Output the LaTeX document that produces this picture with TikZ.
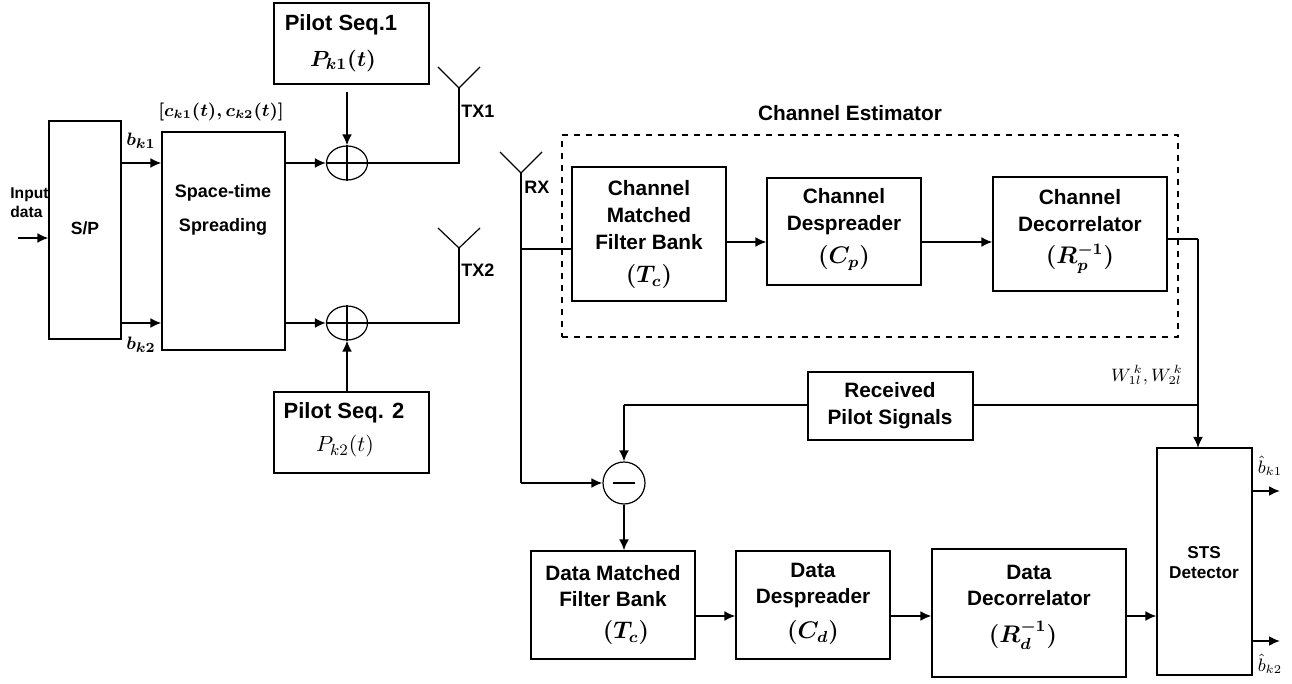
\documentclass[tikz,border=0pt]{standalone}
\usepackage{amsmath}
\usepackage{fontspec}
\setmainfont{Liberation Sans}
\usetikzlibrary{arrows.meta,shapes.geometric}
\newcommand{\bx}[6][]{\node[box,#1,minimum width={(#5-#3)*0.5pt},minimum height={(#6-#4)*0.5pt}] (#2) at ({(#3+#5)/2},{(#4+#6)/2}) {};}
\begin{document}
\begin{tikzpicture}[x=0.5pt,y=-0.5pt,
  box/.style={draw,line width=0.6pt,inner sep=0pt},
  thinln/.style={line width=0.6pt},
  arr/.style={line width=1pt,-{Latex[length=5.5pt,width=5pt]}},
  adder/.style={draw,ellipse,line width=0.6pt,minimum width=20.5pt,minimum height=17pt,inner sep=0pt},
  lbl/.style={font=\bfseries\fontsize{10.4}{12}\selectfont,inner sep=0pt},
  slbl/.style={font=\bfseries\fontsize{9}{11}\selectfont,inner sep=0pt},
  mth/.style={font=\fontsize{11.5}{13}\selectfont\boldmath,inner sep=0pt},
  smth/.style={font=\fontsize{9.5}{11}\selectfont\boldmath,inner sep=0pt},
  pmth/.style={font=\fontsize{9}{11}\selectfont,inner sep=0pt}]
\useasboundingbox (0,0) rectangle (1292,684);

% ---------- transmitter ----------
\bx{sp}{49}{121}{121}{339}
\bx{st}{162}{132}{285}{350}
\bx{p1}{274}{3}{429}{84}
\bx{p2}{274}{392}{429}{473}
\node[adder] (ad1) at (347,163) {};
\node[adder] (ad2) at (347,323) {};
\draw[thinln] (ad1.north) -- (ad1.south) (ad1.west) -- (ad1.east);
\draw[thinln] (ad2.north) -- (ad2.south) (ad2.west) -- (ad2.east);

\coordinate (in) at (18,238);
\draw[arr] (in) -- (in -| sp.west);
\draw[arr] (sp.east |- ad1) -- (st.west |- ad1);
\draw[arr] (sp.east |- ad2) -- (st.west |- ad2);
\draw[arr] (st.east |- ad1) -- (ad1.west);
\draw[arr] (st.east |- ad2) -- (ad2.west);
\coordinate (p1b) at (347,92);
\draw[arr] (p1b) -- (ad1.north);
\draw[arr] (ad2.south |- p2.north) -- (ad2.south);

% antennas
\coordinate (tx1) at (459,88);
\coordinate (tx2) at (459,248);
\coordinate (rx) at (521,173);
\draw[thinln] (ad1.east) -- (tx1 |- ad1) -- (tx1);
\draw[thinln] (ad2.east) -- (tx2 |- ad2) -- (tx2);
\draw[thinln] (438,67) -- (tx1) -- (480,67);
\draw[thinln] (438,228) -- (tx2) -- (480,228);
\draw[thinln] (500,152) -- (rx) -- (542,152);

\node[font=\bfseries\fontsize{7.8}{9.5}\selectfont,align=left,anchor=west,inner sep=0pt] (tin) at (10,203) {Input\\data};
\node[font=\bfseries\fontsize{8.8}{10}\selectfont,inner sep=0pt] (tsp) at (85,228) {S/P};
\node[smth] (tb1) at (141,141) {$b_{k1}$};
\node[smth] (tb2) at (141,345) {$b_{k2}$};
\node[smth,font=\fontsize{9}{11}\selectfont\boldmath] (tck) at (221,112) {$[c_{k1}(t),c_{k2}(t)]$};
\node[slbl,align=center,font=\bfseries\fontsize{9}{17}\selectfont] (tst) at (223,210) {Space-time\\Spreading};
\node[font=\bfseries\fontsize{11}{13}\selectfont,inner sep=0pt] (tp1) at (341,25) {Pilot Seq.1};
\node[mth,font=\fontsize{11}{13}\selectfont\boldmath] (tp1m) at (343,61) {$P_{k1}(t)$};
\node[font=\bfseries\fontsize{11}{13}\selectfont,inner sep=0pt] (tp2) at (344,413) {Pilot Seq. 2};
\node[pmth,font=\fontsize{11}{13}\selectfont] (tp2m) at (345,446) {$P_{k2}(t)$};
\node[slbl,anchor=west] (ttx1) at (461,111) {TX1};
\node[slbl,anchor=west] (ttx2) at (461,270) {TX2};
\node[slbl,anchor=west] (trx) at (524,187) {RX};

% ---------- channel estimator ----------
\bx[dashed]{ce}{562}{135}{1178}{337}
\node[lbl] (tce) at (850,113) {Channel Estimator};
\bx{cmf}{572}{167}{726}{301}
\bx{cds}{767}{178}{921}{285}
\bx{cdc}{993}{177}{1167}{291}
\node[lbl,align=center,font=\bfseries\fontsize{10.4}{13.5}\selectfont] (tcmf) at (649,215) {Channel\\Matched\\Filter Bank};
\node[mth] (tcmfm) at (649,277) {$(T_c)$};
\node[lbl,align=center,font=\bfseries\fontsize{10.4}{13.5}\selectfont] (tcds) at (844,212) {Channel\\Despreader};
\node[mth] (tcdsm) at (844,258) {$(C_p)$};
\node[lbl,align=center,font=\bfseries\fontsize{10.4}{13.5}\selectfont] (tcdc) at (1080,211) {Channel\\Decorrelator};
\node[mth] (tcdcm) at (1080,259) {$(R_p^{-1})$};

\coordinate (j1) at (521,249);
\coordinate (ya) at (0,242);
\coordinate (k) at (1198,239);
\draw[thinln] (rx) -- (j1) -- (j1 -| cmf.west);
\draw[arr] (cmf.east |- ya) -- (cds.west |- ya);
\draw[arr] (cds.east |- ya) -- (cdc.west |- ya);
\draw[thinln] (cdc.east |- k) -- (k);
\draw[arr] (k) -- (k |- 0,448);

% ---------- data path ----------
\bx{rps}{808}{372}{973}{440}
\node[lbl,align=center,font=\bfseries\fontsize{10.4}{13.5}\selectfont] (trps) at (890,406) {Received\\Pilot Signals};
\node[draw,circle,line width=0.6pt,minimum size=21pt,inner sep=0pt] (sub) at (624,483) {};
\draw[thinln] ([xshift=-5.5pt]sub.center) -- ([xshift=5.5pt]sub.center);
\bx{sts}{1157}{448}{1252}{675}
\node[font=\bfseries\fontsize{8.6}{10}\selectfont,align=center,inner sep=0pt] (tsts) at (1204,563) {STS\\Detector};
\bx{dmf}{531}{551}{695}{659}
\bx{dds}{736}{551}{890}{659}
\bx{ddc}{932}{549}{1126}{677}
\node[lbl,align=center,font=\bfseries\fontsize{10.4}{13}\selectfont] (tdmf) at (613,586) {Data Matched\\Filter Bank};
\node[mth] (tdmfm) at (626,633) {$(T_c)$};
\node[lbl,align=center,font=\bfseries\fontsize{10.4}{13}\selectfont] (tdds) at (813,586) {Data\\Despreader};
\node[mth] (tddsm) at (813,633) {$(C_d)$};
\node[lbl,align=center,font=\bfseries\fontsize{10.4}{13}\selectfont] (tddc) at (1029,585) {Data\\Decorrelator};
\node[mth] (tddcm) at (1023,635) {$(R_d^{-1})$};

\coordinate (rp) at (624,405);
\coordinate (yb) at (0,616);
\draw[thinln] (rps.east |- rp) -- (k |- rp);
\draw[thinln] (rps.west |- rp) -- (rp);
\draw[arr] (rp) -- (sub.north);
\draw[thinln] (j1) -- (j1 |- sub);
\draw[arr] (j1 |- sub) -- (sub.west);
\draw[arr] (sub.south) -- (sub.south |- dmf.north);
\draw[arr] (dmf.east |- yb) -- (dds.west |- yb);
\draw[arr] (dds.east |- yb) -- (ddc.west |- yb);
\draw[arr] (ddc.east |- yb) -- (sts.west |- yb);
\coordinate (o1) at (1280,491);
\coordinate (o2) at (1280,641);
\draw[arr] (sts.east |- o1) -- (o1);
\draw[arr] (sts.east |- o2) -- (o2);
\node[pmth] (tw) at (1147,375) {$W_{1l}^{\,k},W_{2l}^{\,k}$};
\node[pmth] (tbh1) at (1270,466) {$\hat{b}_{k1}$};
\node[pmth] (tbh2) at (1270,664) {$\hat{b}_{k2}$};
\end{tikzpicture}
\end{document}
